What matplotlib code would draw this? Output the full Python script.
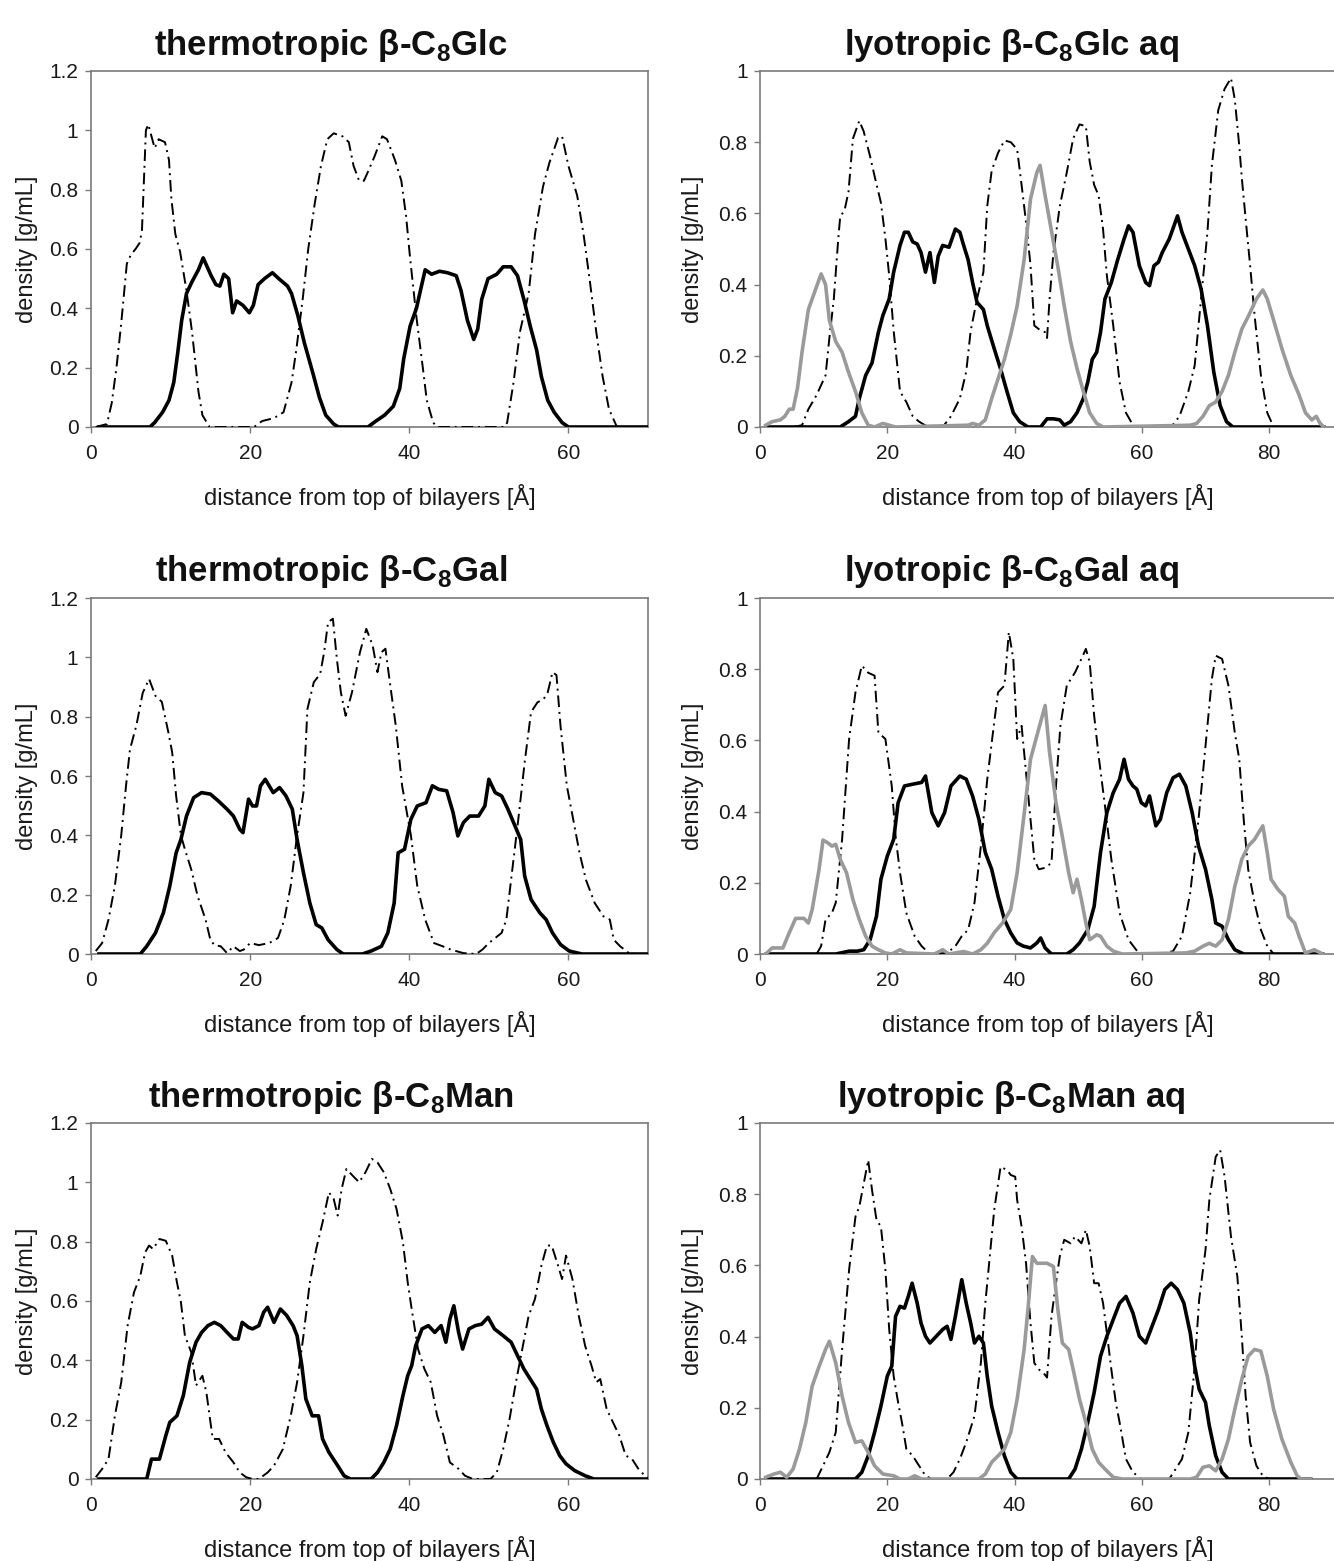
import numpy as np
import matplotlib.pyplot as plt

plt.rcParams['font.family'] = ['Liberation Sans', 'DejaVu Sans']
plt.rcParams['mathtext.fontset'] = 'custom'
plt.rcParams['mathtext.rm'] = 'Liberation Sans'
plt.rcParams['mathtext.bf'] = 'Liberation Sans:bold'

# ---- density profiles: (distance [A], density [g/mL]) ----

# thermotropic beta-C8Glc
thermo_glc_head = [(0.6, 0), (2, 0.01), (2.6, 0.08), (3.2, 0.2), (3.8, 0.35), (4.5, 0.55), (5, 0.58),
                   (5.6, 0.6), (6.1, 0.62), (6.4, 0.66), (6.9, 1.0), (7.2, 1.02), (7.5, 0.99), (8, 0.94),
                   (8.5, 0.97), (9.3, 0.96), (9.8, 0.9), (10.1, 0.77), (10.6, 0.65), (11.2, 0.59), (12, 0.46),
                   (12.7, 0.32), (13.5, 0.12), (14, 0.04), (14.9, 0), (20.5, 0), (21.5, 0.02), (23, 0.03),
                   (24.2, 0.05), (25.2, 0.15), (25.8, 0.26), (26.6, 0.43), (27.3, 0.6), (28.1, 0.75),
                   (28.9, 0.88), (29.7, 0.97), (30.5, 0.99), (31.6, 0.98), (32.4, 0.96), (33, 0.88),
                   (33.7, 0.83), (34.3, 0.83), (34.8, 0.86), (35.6, 0.91), (36.6, 0.98), (37.2, 0.97),
                   (38.2, 0.9), (39, 0.83), (39.6, 0.71), (40.1, 0.57), (40.9, 0.37), (41.7, 0.2),
                   (42.2, 0.09), (43, 0.015), (43.5, 0), (52, 0), (52.3, 0.015), (53.1, 0.15), (53.9, 0.32),
                   (55, 0.45), (55.8, 0.65), (56.8, 0.81), (57.6, 0.89), (58.7, 0.975), (59.2, 0.98),
                   (60, 0.88), (61.1, 0.78), (61.9, 0.65), (62.7, 0.49), (63.5, 0.32), (64.3, 0.17),
                   (65.1, 0.06), (66.1, 0)]
thermo_glc_chain = [(1, 0), (7.4, 0), (8, 0.015), (9, 0.05), (9.8, 0.09), (10.4, 0.15), (10.9, 0.25),
                    (11.4, 0.36), (12, 0.45), (12.7, 0.49), (13.5, 0.53), (14.1, 0.57), (14.6, 0.54),
                    (15.1, 0.51), (15.7, 0.48), (16.2, 0.475), (16.7, 0.515), (17.3, 0.5), (17.8, 0.385),
                    (18.3, 0.425), (19.1, 0.41), (19.9, 0.385), (20.4, 0.41), (21, 0.48), (21.8, 0.5),
                    (22.8, 0.52), (23.6, 0.5), (24.7, 0.475), (25.2, 0.45), (26, 0.375), (26.8, 0.285),
                    (27.9, 0.18), (28.7, 0.1), (29.5, 0.04), (30.5, 0.01), (31.1, 0), (34.8, 0), (35.8, 0.02),
                    (36.9, 0.04), (38, 0.07), (38.8, 0.13), (39.3, 0.23), (40.1, 0.34), (40.9, 0.4),
                    (41.4, 0.46), (42, 0.53), (42.8, 0.515), (43.8, 0.525), (44.8, 0.52), (45.9, 0.51),
                    (46.5, 0.46), (47.3, 0.36), (48.1, 0.295), (48.6, 0.33), (49.1, 0.43), (49.9, 0.5),
                    (51, 0.515), (51.8, 0.54), (52.8, 0.54), (53.6, 0.51), (54.4, 0.43), (55.2, 0.34),
                    (56, 0.26), (56.6, 0.17), (57.4, 0.09), (58.2, 0.05), (59.2, 0.015), (60, 0), (70, 0)]

# lyotropic beta-C8Glc aq
lyo_glc_water = [(0.9, 0.005), (1.9, 0.015), (3.2, 0.02), (3.9, 0.03), (4.6, 0.05), (5.2, 0.05), (5.9, 0.11),
                 (6.6, 0.21), (7.6, 0.33), (8.6, 0.38), (9.6, 0.43), (10.3, 0.4), (10.9, 0.3), (11.9, 0.24),
                 (12.9, 0.21), (13.9, 0.154), (15, 0.1), (16, 0.04), (17, 0.005), (18, 0), (19.3, 0.01),
                 (20.3, 0.005), (21.3, 0), (32.7, 0.005), (33.4, 0.01), (34.4, 0.005), (35.4, 0.02),
                 (36.4, 0.08), (37.4, 0.135), (38.4, 0.19), (39.4, 0.26), (40.4, 0.34), (41.5, 0.47),
                 (42.5, 0.64), (43.5, 0.715), (44, 0.735), (44.8, 0.65), (45.8, 0.55), (46.8, 0.45),
                 (47.8, 0.34), (48.8, 0.24), (49.8, 0.165), (50.8, 0.1), (51.8, 0.04), (52.9, 0.01),
                 (53.9, 0), (67.6, 0.005), (68.6, 0.01), (69.6, 0.03), (70.6, 0.06), (71.6, 0.07),
                 (72.6, 0.1), (73.6, 0.145), (74.6, 0.21), (75.7, 0.275), (76.7, 0.31), (78, 0.36),
                 (79, 0.385), (79.7, 0.36), (80.7, 0.3), (82, 0.22), (83.4, 0.145), (84.7, 0.09),
                 (85.7, 0.04), (86.7, 0.02), (87.4, 0.03), (88, 0.01), (88.6, 0)]
lyo_glc_head = [(5.2, 0), (6.6, 0.005), (7.6, 0.05), (8.9, 0.09), (10.3, 0.145), (10.9, 0.25), (11.6, 0.36),
                (12.3, 0.53), (12.6, 0.59), (13.3, 0.61), (13.9, 0.66), (14.6, 0.81), (15.6, 0.86),
                (16.3, 0.83), (17.3, 0.76), (18, 0.705), (19, 0.63), (19.7, 0.53), (20.3, 0.425), (21, 0.27),
                (22, 0.1), (23, 0.07), (24, 0.03), (25, 0.015), (26.4, 0), (28.7, 0), (30, 0.03),
                (31.4, 0.08), (32.4, 0.155), (33.1, 0.27), (34.1, 0.36), (35.1, 0.435), (35.7, 0.62),
                (36.4, 0.72), (37.4, 0.77), (38.4, 0.805), (39.4, 0.8), (40.4, 0.78), (41.1, 0.68),
                (41.8, 0.575), (42.5, 0.455), (43.1, 0.285), (43.8, 0.275), (44.8, 0.266), (45.1, 0.25),
                (45.5, 0.36), (46.1, 0.49), (47.1, 0.62), (48.2, 0.715), (49.2, 0.81), (50.2, 0.85),
                (51.2, 0.845), (51.8, 0.745), (52.5, 0.68), (53.2, 0.65), (53.9, 0.556), (54.5, 0.425),
                (55.5, 0.285), (56.5, 0.126), (57.5, 0.04), (58.6, 0.005), (59.2, 0), (64.6, 0),
                (65.9, 0.03), (67.3, 0.1), (68.3, 0.173), (69.3, 0.36), (70.3, 0.547), (71, 0.735),
                (72, 0.89), (73, 0.95), (74, 0.98), (74.6, 0.92), (75.3, 0.79), (75.7, 0.7), (76.3, 0.585),
                (77, 0.455), (77.7, 0.315), (78.7, 0.145), (79.7, 0.04), (80.7, 0)]
lyo_glc_chain = [(1, 0), (12.6, 0), (13.9, 0.015), (15, 0.03), (15.6, 0.08), (16.6, 0.145), (17.6, 0.18),
                 (18.6, 0.266), (19.3, 0.313), (20.3, 0.36), (21, 0.435), (22, 0.51), (22.7, 0.547),
                 (23.3, 0.547), (24, 0.52), (24.7, 0.514), (25.3, 0.49), (26, 0.435), (26.7, 0.49),
                 (27.4, 0.406), (28, 0.48), (28.7, 0.51), (29.7, 0.505), (30.7, 0.556), (31.4, 0.547),
                 (32, 0.51), (32.7, 0.47), (33.4, 0.406), (34.1, 0.35), (35.1, 0.33), (35.7, 0.285),
                 (36.8, 0.22), (37.8, 0.163), (38.8, 0.1), (39.8, 0.04), (40.8, 0.015), (42.1, 0), (44.1, 0),
                 (45.1, 0.023), (46.1, 0.023), (47.1, 0.02), (47.8, 0.005), (48.8, 0.015), (49.8, 0.04),
                 (50.8, 0.08), (51.5, 0.126), (52.2, 0.19), (52.9, 0.21), (53.5, 0.266), (54.2, 0.36),
                 (55.2, 0.406), (56.2, 0.47), (57.2, 0.528), (57.9, 0.565), (58.6, 0.547), (59.6, 0.453),
                 (60.6, 0.406), (61.2, 0.397), (61.9, 0.453), (62.6, 0.463), (63.2, 0.49), (64.3, 0.528),
                 (65.6, 0.593), (66.3, 0.547), (67.3, 0.5), (68.3, 0.453), (69.3, 0.388), (70.3, 0.285),
                 (71.3, 0.154), (72.3, 0.06), (73.3, 0.015), (74.3, 0), (88.6, 0)]

# thermotropic beta-C8Gal
thermo_gal_head = [(0.6, 0.01), (1.4, 0.037), (2.2, 0.116), (3, 0.23), (3.8, 0.4), (4.4, 0.567), (4.9, 0.69),
                   (5.7, 0.77), (6.5, 0.88), (7.3, 0.927), (8.1, 0.87), (8.9, 0.85), (9.7, 0.75), (10.2, 0.68),
                   (10.7, 0.533), (11.3, 0.4), (11.8, 0.353), (12.6, 0.285), (13.4, 0.195), (14.4, 0.116),
                   (15, 0.048), (15.5, 0.03), (16.3, 0.026), (17.1, 0.003), (17.9, 0.026), (18.7, 0.01),
                   (19.2, 0.015), (20, 0.037), (21.1, 0.03), (22.4, 0.037), (23.5, 0.054), (24.3, 0.116),
                   (25.1, 0.23), (25.9, 0.4), (26.7, 0.544), (27.2, 0.826), (28, 0.916), (28.8, 0.944),
                   (29.3, 1.017), (29.8, 1.119), (30.4, 1.13), (30.9, 0.994), (31.4, 0.882), (32, 0.803),
                   (32.8, 0.882), (33.8, 1.017), (34.6, 1.096), (35.4, 1.04), (36, 0.95), (36.5, 1.017),
                   (37, 1.029), (37.5, 0.927), (38.3, 0.77), (39.1, 0.567), (40.2, 0.4), (41, 0.23),
                   (42, 0.116), (43.1, 0.037), (44.2, 0.026), (45.2, 0.015), (46.8, 0.003), (48.4, 0),
                   (49.2, 0.015), (50, 0.037), (50.8, 0.054), (51.6, 0.071), (52.2, 0.116), (52.9, 0.274),
                   (53.7, 0.454), (54.5, 0.646), (55.3, 0.815), (56.1, 0.848), (56.9, 0.86), (57.4, 0.882),
                   (58, 0.95), (58.5, 0.94), (59, 0.77), (59.8, 0.567), (60.6, 0.454), (61.4, 0.34),
                   (62.2, 0.25), (63.3, 0.172), (64.4, 0.127), (65.2, 0.116), (65.7, 0.048), (66.5, 0.026),
                   (67.6, 0.003), (68.5, 0)]
thermo_gal_chain = [(1, 0), (6.2, 0), (7, 0.026), (8.1, 0.071), (9.1, 0.139), (9.9, 0.229), (10.7, 0.341),
                    (11.3, 0.386), (12, 0.465), (12.9, 0.527), (13.9, 0.544), (15, 0.539), (16, 0.516),
                    (17.1, 0.488), (17.9, 0.465), (18.7, 0.42), (19.1, 0.409), (19.8, 0.522), (20.3, 0.499),
                    (20.8, 0.499), (21.3, 0.567), (21.9, 0.589), (22.9, 0.544), (23.7, 0.561), (24.5, 0.533),
                    (25.3, 0.488), (25.9, 0.386), (26.7, 0.274), (27.5, 0.172), (28.3, 0.099), (29, 0.088),
                    (29.8, 0.048), (30.9, 0.015), (31.7, 0), (34.1, 0), (35.2, 0.01), (36.5, 0.026),
                    (37.3, 0.071), (38.1, 0.172), (38.6, 0.341), (39.4, 0.353), (40.2, 0.454), (41, 0.499),
                    (42.1, 0.51), (42.9, 0.567), (43.7, 0.555), (44.7, 0.55), (45.5, 0.477), (46.1, 0.398),
                    (46.8, 0.443), (47.6, 0.465), (48.7, 0.465), (49.5, 0.499), (50, 0.589), (50.8, 0.544),
                    (51.6, 0.533), (52.4, 0.488), (53.2, 0.437), (54, 0.386), (54.5, 0.263), (55.3, 0.184),
                    (56.4, 0.139), (57.2, 0.116), (58, 0.071), (59, 0.032), (60.1, 0.01), (61.7, 0), (70, 0)]

# lyotropic beta-C8Gal aq
lyo_gal_water = [(0.9, 0), (1.9, 0.017), (3.6, 0.017), (4.6, 0.06), (5.6, 0.1), (6.9, 0.1), (7.6, 0.087),
                 (8.2, 0.125), (9.3, 0.24), (9.9, 0.32), (10.6, 0.313), (11.3, 0.303), (11.9, 0.308),
                 (12.6, 0.266), (13.6, 0.228), (14.6, 0.153), (15.6, 0.097), (16.6, 0.05), (17.6, 0.022),
                 (18.6, 0.012), (19.7, 0.003), (20.7, 0), (22, 0.012), (23, 0.003), (27.4, 0), (28.7, 0.012),
                 (29.7, 0), (32, 0.007), (33.4, 0), (34.7, 0.012), (35.7, 0.03), (36.8, 0.06), (38.1, 0.087),
                 (39.4, 0.125), (40.4, 0.228), (41.4, 0.378), (42.5, 0.547), (43.5, 0.613), (44.8, 0.698),
                 (45.5, 0.566), (46.5, 0.425), (47.5, 0.33), (48.5, 0.228), (49.2, 0.172), (49.8, 0.21),
                 (50.5, 0.153), (51.2, 0.087), (51.8, 0.04), (52.9, 0.054), (53.5, 0.05), (54.5, 0.022),
                 (55.5, 0.008), (56.9, 0), (66.9, 0.003), (68.3, 0.008), (69.6, 0.022), (70.6, 0.03),
                 (71.6, 0.022), (72.6, 0.04), (73.6, 0.097), (74.6, 0.19), (75.7, 0.266), (76.7, 0.303),
                 (77.7, 0.322), (79, 0.36), (79.7, 0.285), (80.3, 0.21), (81.4, 0.181), (82.4, 0.162),
                 (83, 0.106), (84, 0.087), (84.7, 0.05), (85.7, 0.003), (87.1, 0.012), (88.4, 0)]
lyo_gal_head = [(8.9, 0), (9.6, 0.022), (10.3, 0.097), (11.3, 0.115), (11.9, 0.144), (12.9, 0.322), (14, 0.604),
                (15, 0.735), (16, 0.81), (17, 0.79), (18, 0.782), (18.6, 0.622), (19.7, 0.604), (20.7, 0.472),
                (21.3, 0.331), (22, 0.228), (23, 0.115), (24.3, 0.05), (25.4, 0.022), (26.7, 0), (29.4, 0.003),
                (30.7, 0.022), (31.7, 0.05), (32.7, 0.068), (33.7, 0.144), (34.7, 0.303), (35.7, 0.49),
                (36.8, 0.651), (37.4, 0.735), (38.4, 0.754), (39.1, 0.904), (39.8, 0.829), (40.4, 0.604),
                (41.1, 0.641), (41.8, 0.51), (42.5, 0.378), (43.1, 0.266), (43.8, 0.238), (44.8, 0.242),
                (45.8, 0.256), (46.5, 0.472), (47.2, 0.641), (48.2, 0.754), (49.5, 0.791), (50.5, 0.829),
                (51.2, 0.857), (51.8, 0.82), (52.5, 0.67), (53.2, 0.557), (54.2, 0.416), (55.2, 0.266),
                (56.5, 0.115), (57.9, 0.04), (59.6, 0), (63.6, 0.003), (64.9, 0.008), (66.3, 0.05),
                (67.6, 0.172), (68.9, 0.378), (70, 0.585), (71, 0.773), (71.6, 0.838), (72.6, 0.829),
                (73.6, 0.754), (74.6, 0.622), (75.3, 0.547), (76, 0.378), (76.7, 0.238), (77.7, 0.144),
                (78.7, 0.068), (79.7, 0.022), (80.7, 0)]
lyo_gal_chain = [(1, 0), (11.9, 0), (14, 0.008), (15.3, 0.008), (16.3, 0.012), (17.3, 0.04), (18.3, 0.106),
                 (19, 0.21), (20, 0.275), (21, 0.322), (21.7, 0.425), (22.7, 0.472), (24, 0.477), (25.4, 0.482),
                 (26, 0.5), (27, 0.397), (28, 0.36), (29, 0.397), (30, 0.472), (31.4, 0.5), (32.4, 0.491),
                 (33.4, 0.444), (34.4, 0.378), (35.4, 0.285), (36.4, 0.238), (37.4, 0.162), (38.4, 0.097),
                 (39.4, 0.059), (40.4, 0.031), (41.4, 0.022), (42.5, 0.017), (43.5, 0.031), (44.1, 0.045),
                 (44.8, 0.017), (45.8, 0), (48.2, 0), (49.2, 0.012), (50.2, 0.031), (51.5, 0.068),
                 (52.5, 0.134), (53.5, 0.285), (54.5, 0.397), (55.5, 0.453), (56.5, 0.491), (57.2, 0.547),
                 (57.9, 0.491), (58.6, 0.472), (59.2, 0.463), (59.9, 0.425), (60.6, 0.416), (61.2, 0.444),
                 (62.2, 0.36), (62.9, 0.378), (63.9, 0.453), (64.9, 0.495), (65.9, 0.505), (66.9, 0.472),
                 (67.9, 0.397), (68.9, 0.303), (70, 0.238), (71, 0.153), (71.6, 0.087), (72.6, 0.078),
                 (73.6, 0.04), (74.6, 0.012), (76, 0), (88.4, 0)]

# thermotropic beta-C8Man
thermo_man_head = [(0.6, 0.006), (1.4, 0.034), (2.2, 0.067), (3, 0.213), (3.8, 0.326), (4.6, 0.517),
                   (5.4, 0.629), (6.2, 0.685), (6.8, 0.764), (7.3, 0.787), (7.8, 0.775), (8.6, 0.809),
                   (9.4, 0.803), (10.2, 0.753), (10.8, 0.663), (11.3, 0.596), (11.8, 0.483), (12.6, 0.427),
                   (13.2, 0.315), (14, 0.348), (14.5, 0.292), (15.3, 0.135), (16.1, 0.135), (16.9, 0.09),
                   (17.9, 0.056), (18.7, 0.022), (19.5, 0.006), (20.3, 0), (21.1, 0), (22.2, 0.022),
                   (23, 0.045), (24.1, 0.1), (25.1, 0.213), (25.9, 0.326), (26.7, 0.483), (27.5, 0.663),
                   (28.3, 0.775), (29.1, 0.865), (29.9, 0.966), (30.5, 0.944), (31, 0.888), (31.5, 0.978),
                   (32.1, 1.045), (32.9, 1.022), (33.7, 1.0), (34.5, 1.034), (35.3, 1.079), (36, 1.067),
                   (36.8, 1.034), (37.6, 0.978), (38.4, 0.91), (39.2, 0.798), (39.8, 0.663), (40.3, 0.573),
                   (41.1, 0.438), (41.9, 0.371), (42.7, 0.326), (43.5, 0.213), (44.3, 0.146), (45.1, 0.056),
                   (46.2, 0.034), (47, 0.011), (48, 0), (50.2, 0), (51, 0.022), (51.8, 0.101), (52.6, 0.202),
                   (53.4, 0.326), (54.2, 0.438), (55, 0.55), (55.8, 0.607), (56.6, 0.719), (57.3, 0.787),
                   (57.9, 0.787), (58.7, 0.719), (59.2, 0.674), (59.7, 0.753), (60.5, 0.674), (61.3, 0.55),
                   (62.1, 0.449), (62.9, 0.382), (63.5, 0.326), (64, 0.337), (64.8, 0.236), (65.6, 0.191),
                   (66.4, 0.146), (67.2, 0.079), (68, 0.067), (68.8, 0.034), (69.6, 0.011), (70.1, 0)]
thermo_man_chain = [(1, 0), (7, 0), (7.6, 0.067), (8.6, 0.067), (9.4, 0.146), (9.9, 0.191), (10.8, 0.213),
                    (11.6, 0.281), (12.4, 0.393), (13.2, 0.461), (13.9, 0.494), (14.7, 0.517), (15.5, 0.528),
                    (16.3, 0.517), (17.1, 0.494), (17.9, 0.472), (18.5, 0.472), (19, 0.528), (19.8, 0.511),
                    (20.3, 0.506), (21.1, 0.517), (21.7, 0.562), (22.2, 0.579), (23, 0.528), (23.8, 0.573),
                    (24.6, 0.551), (25.4, 0.517), (25.9, 0.483), (26.5, 0.382), (27, 0.27), (27.8, 0.213),
                    (28.6, 0.213), (29.1, 0.135), (29.9, 0.09), (31, 0.045), (31.8, 0.011), (32.6, 0),
                    (35.2, 0), (36, 0.022), (36.8, 0.056), (37.6, 0.101), (38.4, 0.18), (39.2, 0.281),
                    (39.8, 0.348), (40.3, 0.382), (40.8, 0.449), (41.6, 0.506), (42.4, 0.517), (43.2, 0.494),
                    (44, 0.517), (44.6, 0.461), (45.1, 0.539), (45.6, 0.584), (46.2, 0.494), (46.7, 0.438),
                    (47.5, 0.506), (48.3, 0.517), (49.1, 0.522), (49.9, 0.545), (50.7, 0.506), (51.8, 0.483),
                    (52.8, 0.461), (53.6, 0.416), (54.4, 0.371), (55.2, 0.337), (56, 0.303), (56.6, 0.236),
                    (57.3, 0.18), (58.1, 0.124), (58.9, 0.079), (59.7, 0.051), (60.8, 0.028), (62.1, 0.011),
                    (63.2, 0), (70, 0)]

# lyotropic beta-C8Man aq
lyo_man_water = [(0.9, 0.005), (2.2, 0.014), (3.2, 0.019), (4.2, 0.005), (5.2, 0.028), (6.2, 0.084),
                 (7.2, 0.159), (8.2, 0.261), (9.3, 0.317), (10.3, 0.364), (10.9, 0.387), (11.9, 0.326),
                 (12.9, 0.233), (13.9, 0.159), (15, 0.103), (16, 0.107), (17, 0.075), (18, 0.037),
                 (19.3, 0.014), (21, 0.009), (22, 0), (23.3, 0), (24.3, 0.009), (25.4, 0), (34.4, 0),
                 (35.4, 0.014), (36.4, 0.047), (37.4, 0.065), (38.4, 0.084), (39.4, 0.131), (40.4, 0.224),
                 (41.5, 0.364), (42.1, 0.476), (42.8, 0.625), (43.5, 0.606), (44.1, 0.606), (45.1, 0.606),
                 (46.1, 0.597), (46.8, 0.476), (47.5, 0.382), (48.5, 0.364), (49.2, 0.308), (50.2, 0.224),
                 (51.2, 0.159), (52.2, 0.084), (53.2, 0.047), (54.2, 0.028), (55.5, 0.005), (56.9, 0),
                 (67.6, 0), (68.6, 0.005), (69.6, 0.033), (70.6, 0.037), (71.6, 0.023), (72.6, 0.056),
                 (73.6, 0.112), (74.6, 0.196), (75.7, 0.28), (76.7, 0.345), (77.7, 0.364), (78.7, 0.359),
                 (79.7, 0.289), (80.7, 0.196), (82, 0.112), (83.4, 0.047), (84.4, 0.009), (85, 0), (86.5, 0)]
lyo_man_head = [(8.9, 0), (9.9, 0.037), (10.9, 0.075), (11.9, 0.131), (12.9, 0.364), (14, 0.588), (15, 0.737),
                (15.6, 0.765), (16.3, 0.83), (17, 0.896), (17.6, 0.812), (18.3, 0.728), (19, 0.709),
                (19.7, 0.588), (20.3, 0.42), (21, 0.289), (21.7, 0.215), (22.3, 0.159), (23, 0.084),
                (24, 0.065), (25, 0.037), (26, 0.009), (27, 0), (29.4, 0), (30.4, 0.019), (31.4, 0.056),
                (32.4, 0.103), (33.7, 0.177), (34.7, 0.326), (35.4, 0.494), (36.1, 0.625), (36.8, 0.756),
                (37.8, 0.877), (38.8, 0.868), (39.4, 0.854), (40.1, 0.849), (40.4, 0.784), (41.1, 0.709),
                (41.8, 0.606), (42.5, 0.438), (43.1, 0.326), (43.8, 0.308), (44.5, 0.299), (45.1, 0.285),
                (45.8, 0.457), (46.5, 0.55), (47.1, 0.625), (47.8, 0.672), (48.8, 0.662), (49.5, 0.681),
                (50.5, 0.662), (51.2, 0.7), (51.8, 0.653), (52.5, 0.55), (53.2, 0.55), (53.9, 0.494),
                (54.5, 0.41), (55.2, 0.308), (55.9, 0.215), (56.5, 0.159), (57.5, 0.056), (58.6, 0.019),
                (59.9, 0), (64.3, 0), (65.3, 0.028), (66.3, 0.056), (67.3, 0.131), (68.3, 0.317), (69, 0.504),
                (70, 0.644), (70.6, 0.784), (71.6, 0.905), (72.3, 0.924), (73, 0.849), (74, 0.681),
                (75, 0.569), (75.7, 0.401), (76.3, 0.233), (77, 0.103), (78, 0.037), (79, 0.009), (80, 0)]
lyo_man_chain = [(1, 0), (15, 0), (16, 0.019), (17, 0.065), (18, 0.131), (19, 0.205), (20, 0.289),
                 (20.7, 0.317), (21.3, 0.457), (22, 0.485), (22.7, 0.48), (23.3, 0.513), (23.9, 0.55),
                 (24.7, 0.494), (25.3, 0.438), (26, 0.401), (26.7, 0.382), (27.7, 0.401), (28.7, 0.42),
                 (29.4, 0.429), (30, 0.392), (30.7, 0.457), (31.7, 0.56), (32.4, 0.494), (33.1, 0.438),
                 (33.7, 0.382), (34.4, 0.401), (35.1, 0.382), (35.7, 0.289), (36.4, 0.205), (37.4, 0.131),
                 (38.4, 0.065), (39.4, 0.019), (40.4, 0), (48.5, 0), (49.5, 0.028), (50.5, 0.084),
                 (51.5, 0.159), (52.5, 0.243), (53.5, 0.345), (54.5, 0.401), (55.5, 0.448), (56.5, 0.494),
                 (57.5, 0.513), (58.6, 0.466), (59.6, 0.401), (60.6, 0.382), (61.6, 0.429), (62.6, 0.476),
                 (63.6, 0.532), (64.6, 0.55), (65.6, 0.532), (66.6, 0.494), (67.6, 0.41), (68.3, 0.317),
                 (69, 0.252), (70, 0.215), (70.6, 0.149), (71.6, 0.065), (72.6, 0.019), (73.6, 0), (86.5, 0)]

titles = ['thermotropic β-C$_\\mathbf{8}$Glc', 'lyotropic β-C$_\\mathbf{8}$Glc aq',
          'thermotropic β-C$_\\mathbf{8}$Gal', 'lyotropic β-C$_\\mathbf{8}$Gal aq',
          'thermotropic β-C$_\\mathbf{8}$Man', 'lyotropic β-C$_\\mathbf{8}$Man aq']
panel_series = [
    (None, thermo_glc_head, thermo_glc_chain),
    (lyo_glc_water, lyo_glc_head, lyo_glc_chain),
    (None, thermo_gal_head, thermo_gal_chain),
    (lyo_gal_water, lyo_gal_head, lyo_gal_chain),
    (None, thermo_man_head, thermo_man_chain),
    (lyo_man_water, lyo_man_head, lyo_man_chain),
]

W, H = 1334, 1561
fig = plt.figure(figsize=(W / 100, H / 100), dpi=100)

rows_top = [71, 598, 1123]
panel_h = 356
cols = [(91, 648), (760, 1336)]
title_x = [331, 1011]
title_dy = 26

spine_col = '#7a7a7a'
dashdot = (0, (6, 2.5, 1, 2.5))

for i, (water, head, chain) in enumerate(panel_series):
    r, c = divmod(i, 2)
    l, rgt = cols[c]
    top = rows_top[r]
    ax = fig.add_axes([l / W, 1 - (top + panel_h) / H, (rgt - l) / W, panel_h / H])

    hx, hy = np.array(head).T
    cx, cy = np.array(chain).T
    ax.plot(cx, cy, color='black', lw=2.6, solid_joinstyle='round', zorder=3)
    ax.plot(hx, hy, color='black', lw=1.4, linestyle=dashdot, zorder=4)
    if water is not None:
        wx, wy = np.array(water).T
        ax.plot(wx, wy, color='#9a9a9a', lw=2.6, solid_joinstyle='round', zorder=5)

    if c == 0:
        ax.set_xlim(0, 70)
        ax.set_ylim(0, 1.2)
        ax.set_yticks(np.arange(0, 1.21, 0.2))
        ax.set_yticklabels(['0', '0.2', '0.4', '0.6', '0.8', '1', '1.2'])
    else:
        ax.set_xlim(0, 90.5)
        ax.set_ylim(0, 1.0)
        ax.set_yticks(np.arange(0, 1.01, 0.2))
        ax.set_yticklabels(['0', '0.2', '0.4', '0.6', '0.8', '1'])
        ax.spines['right'].set_visible(False)
    ax.set_xticks([0, 20, 40, 60] if c == 0 else [0, 20, 40, 60, 80])

    for s in ax.spines.values():
        s.set_color(spine_col)
        s.set_linewidth(1.2)
    ax.tick_params(direction='out', length=4, width=1, color=spine_col,
                   labelsize=15, labelcolor='#1a1a1a')
    ax.tick_params(axis='x', pad=8)
    ax.tick_params(axis='y', pad=5)

    ax.set_xlabel('distance from top of bilayers [Å]', fontsize=17, color='#1a1a1a')
    ax.set_ylabel('density [g/mL]', fontsize=17, color='#1a1a1a')
    ax.xaxis.set_label_coords(0.5, -0.16)
    ax.yaxis.set_label_coords((38 - 91) / (648 - 91) if c == 0 else (704 - 760) / (1336 - 760), 0.5)

    fig.text(title_x[c] / W, 1 - (top - title_dy) / H, titles[i], fontsize=25, fontweight='bold',
             ha='center', va='center', color='#111111')

fig.savefig('out.png', dpi=100)
